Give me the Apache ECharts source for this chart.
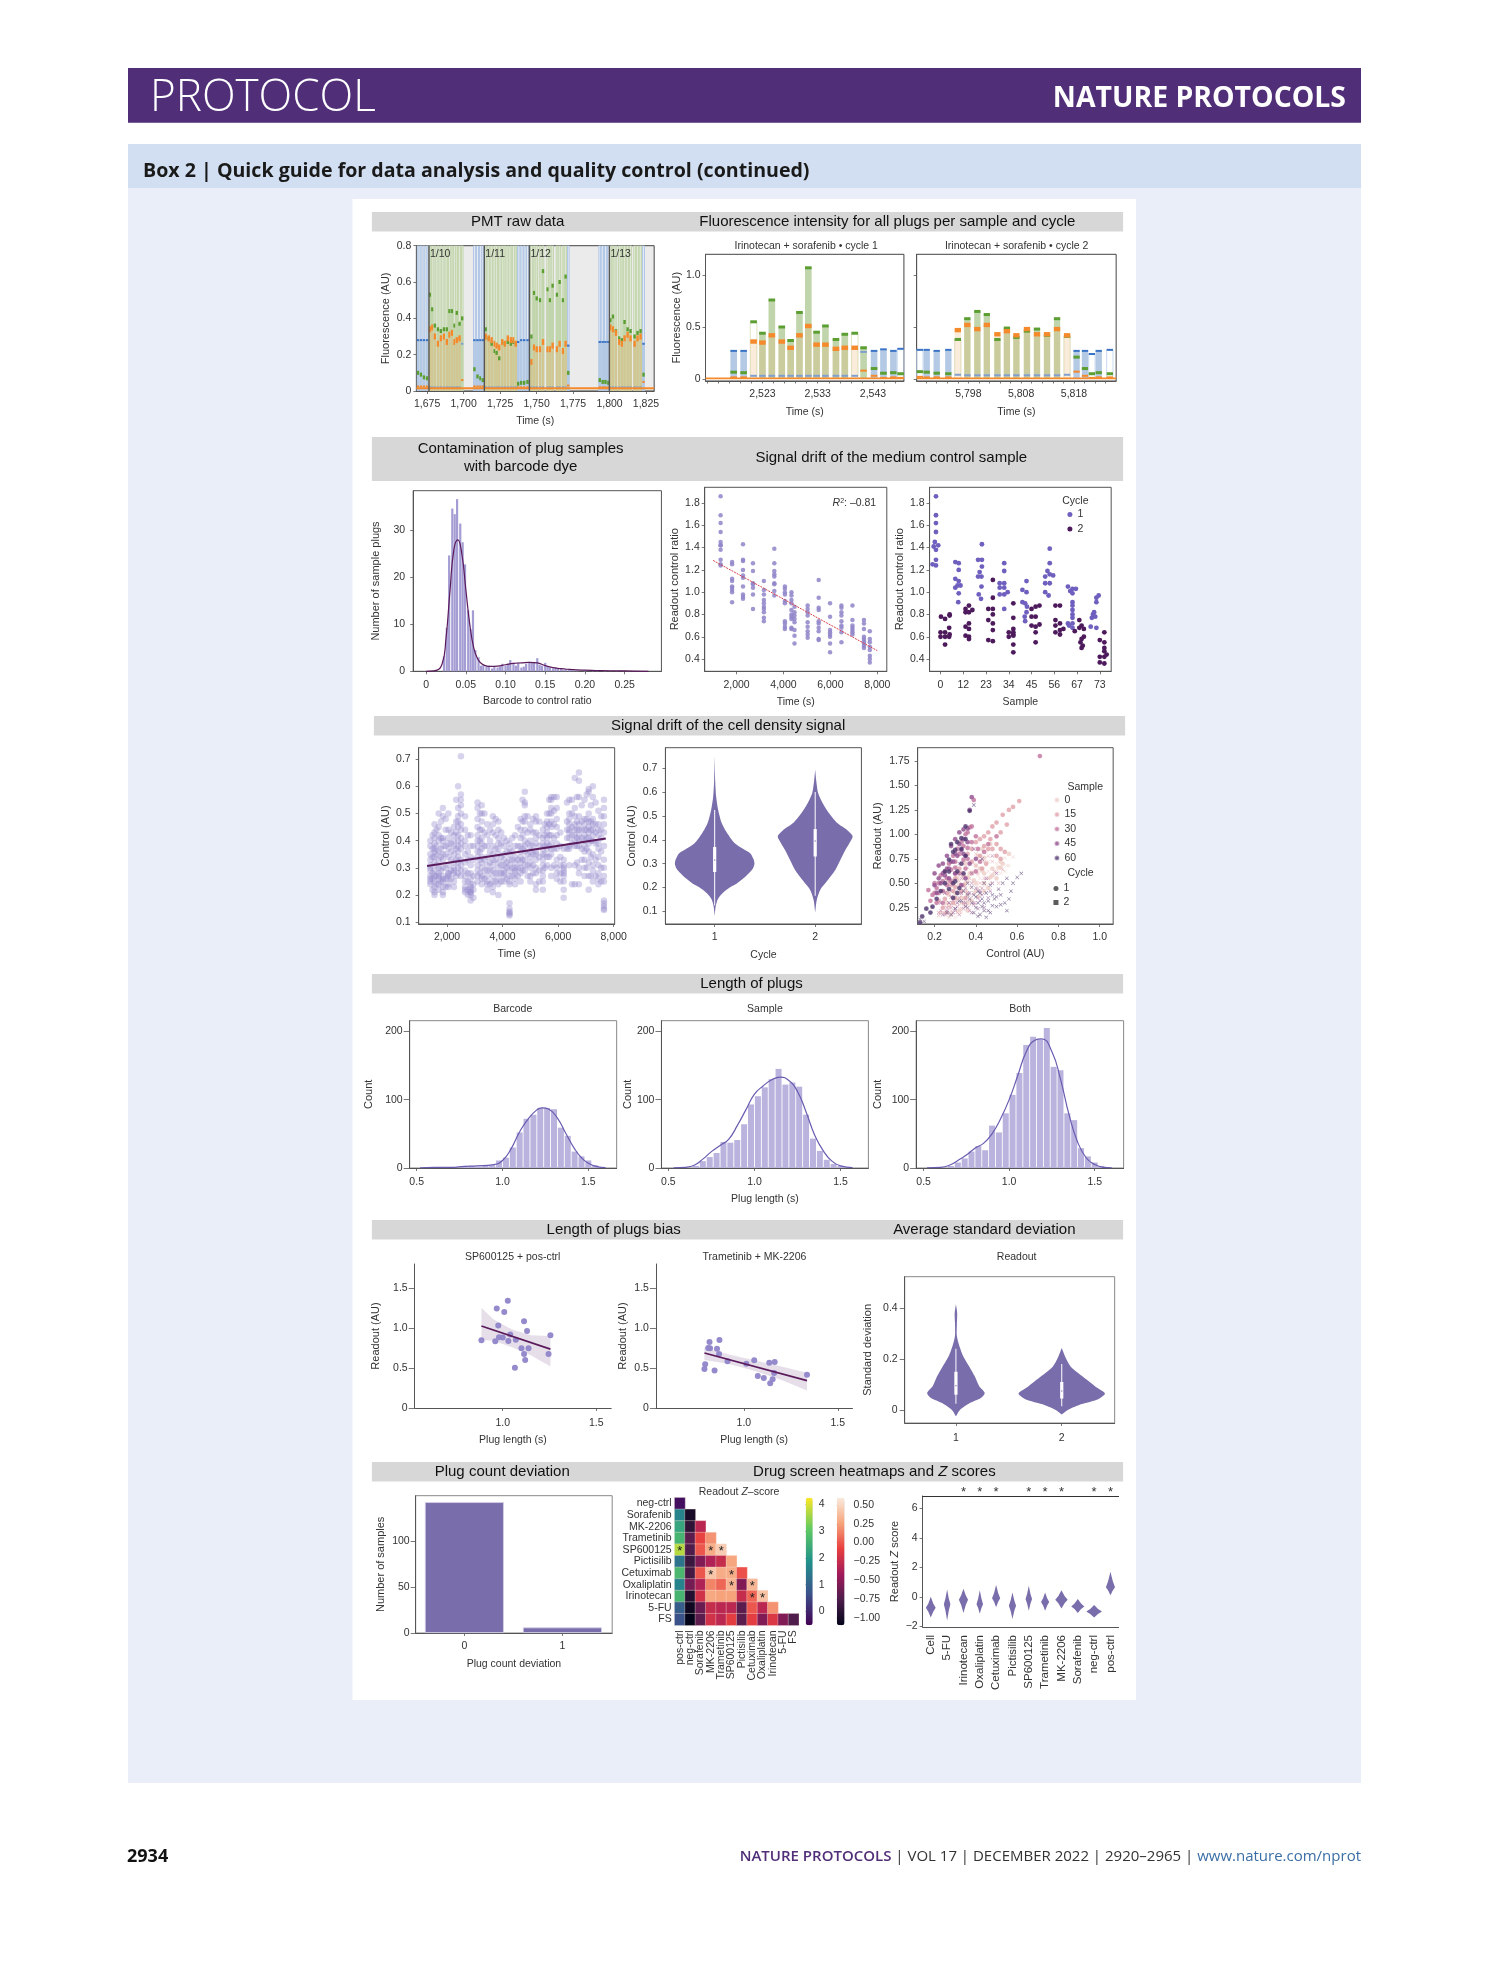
<!DOCTYPE html>
<html><head><meta charset="utf-8"><title>Box 2</title>
<style>html,body{margin:0;padding:0;background:#fff}#c{width:1489px;height:1978px}</style>
<script src="https://cdn.jsdelivr.net/npm/echarts@6/dist/echarts.min.js"></script></head>
<body><div id="c"></div>
<script>
/* ---------- DATA ---------- */
// PMT raw: [time, barcode, sample, cell]
const pmtPlugs=[[1668.8,.28,.10,.025],[1670.8,.28,.09,.025],[1672.8,.28,.075,.025],[1674.9,.28,.07,.025],
[1676.9,.02,.53,.34],[1678.5,.02,.45,.35],[1680.3,.02,.36,.30],[1682.4,.02,.34,.26],[1684.4,.02,.33,.29],[1686.5,.02,.34,.30],[1688.5,.02,.34,.27],[1690.3,.02,.44,.31],[1692,.02,.44,.32],[1693.8,.02,.36,.27],[1695.3,.02,.43,.28],[1697.2,.02,.37,.29],[1699,.26,.40,.06],
[1707.4,.28,.12,.025],[1709.5,.28,.08,.025],[1711.5,.28,.07,.025],[1713.1,.28,.06,.025],
[1715.1,.02,.34,.30],[1717.2,.02,.29,.29],[1719.2,.02,.26,.28],[1721.3,.02,.22,.26],[1722.6,.02,.21,.25],[1724.4,.02,.18,.24],[1726.5,.02,.27,.27],[1728.3,.02,.26,.26],[1730.3,.02,.27,.29],[1732.4,.02,.26,.28],[1734.2,.02,.27,.28],[1735.8,.02,.26,.26],
[1737.4,.27,.04,.02],[1739.4,.28,.045,.02],[1741.5,.28,.045,.02],[1743.8,.28,.05,.02],
[1746.5,.02,.30,.16],[1748.3,.02,.54,.24],[1750.1,.02,.51,.23],[1752.4,.02,.50,.23],[1754.4,.02,.66,.27],[1757.6,.02,.56,.23],[1759.2,.02,.50,.23],[1761,.02,.58,.25],[1764,.02,.53,.23],[1765.8,.02,.60,.26],[1768.1,.02,.50,.22],[1769.9,.02,.63,.26],[1771.7,.25,.10,.03],
[1793.3,.27,.06,.02],[1795.3,.27,.05,.02],[1797.2,.27,.05,.02],[1799.2,.27,.045,.02],
[1800.8,.02,.39,.35],[1802.4,.02,.41,.34],[1804.4,.02,.33,.32],[1806.7,.02,.29,.27],[1808.5,.02,.28,.26],[1810.3,.02,.38,.29],[1812.4,.02,.34,.31],[1814.4,.02,.33,.29],[1817.2,.02,.30,.26],[1819.2,.02,.32,.29],[1821.3,.02,.33,.30],[1823.3,.26,.09,.05]];
const pmtSamples=[[1676.25,'1/10'],[1714.2,'1/11'],[1745.1,'1/12'],[1799.9,'1/13']];
const pmtBaseline=[[1667.6,.015],[1830.6,.015]];
// Fluorescence per cycle: [time, barcode, sample, cell, filled]
const cycle1Plugs=[[2517.8,.27,.065,.015,1],[2519.6,.27,.06,.015,1],[2521.4,.03,.55,.36,0],[2523,.03,.44,.35,1],[2524.7,.03,.76,.42,1],[2526.5,.03,.50,.36,1],[2528.1,.03,.37,.30,1],[2529.7,.03,.64,.42,1],[2531.3,.03,1.07,.51,1],[2532.8,.03,.45,.33,1],[2534.4,.03,.51,.33,1],[2536.3,.03,.38,.29,1],[2537.9,.03,.43,.30,1],[2539.7,.03,.44,.30,0],[2541.3,.26,.30,.08,1],[2543.2,.27,.10,.03,1],[2544.9,.285,.055,.01,1],[2546.7,.27,.06,.015,1],[2548,.29,.05,.01,0]];
const cycle2Plugs=[[5788.8,.28,.07,.02,0],[5790.1,.28,.065,.015,1],[5792,.27,.055,.015,1],[5794.2,.28,.05,.015,1],[5796,.04,.38,.47,0],[5797.8,.035,.58,.52,1],[5799.7,.035,.65,.48,1],[5801.5,.035,.62,.52,1],[5803.5,.035,.38,.43,1],[5805.3,.035,.49,.46,1],[5807.1,.035,.40,.42,1],[5809.1,.035,.46,.48,1],[5811,.035,.48,.43,1],[5812.9,.035,.42,.43,1],[5814.8,.035,.58,.48,1],[5816.7,.04,.41,.42,0],[5818.5,.27,.21,.07,1],[5820.1,.27,.10,.03,1],[5821.4,.24,.05,.01,0],[5822.7,.27,.06,.015,1],[5824.8,.28,.05,.015,0]];
const fluorBaseline1=[[2512.7,.005],[2548.6,.005]];
const fluorBaseline2=[[5788.2,.005],[5826,.005]];
// Contamination histogram
const contamBins=[.0225,.026,.029,.033,.036,.039,.043,.046,.049,.053,.056,.059,.062,.066,.069,.072,.076,.079,.083,.086,.09,.093,.096,.1,.103,.106,.11,.113,.116,.12,.123,.126,.13,.133,.136,.14,.143,.146,.15,.153,.156,.16,.163,.166,.17,.173,.176,.18,.183,.186,.19,.2,.21,.215,.225,.24,.255,.27];
const contamCounts=[3.2,9.3,24.7,34.7,33.5,36.7,31.5,27.5,22.8,13,9,13,4.5,3,1.2,1.3,1,1.2,.6,1,.8,1,1.6,1.2,1.6,2.4,1.8,1.2,1.8,.8,1,1.6,2,1.8,2,2.8,1.4,1.2,1.8,1,.8,.6,.8,.5,.6,.3,.4,.3,.3,.2,.2,.15,.2,.2,.1,.1,.1,.05];
const contamKde=[[0,0],[.01,.1],[.02,1.5],[.025,7],[.03,17],[.035,26],[.04,28],[.045,25],[.05,17.5],[.055,10],[.06,5],[.065,2.6],[.07,1.6],[.075,1.2],[.08,1.05],[.09,1.1],[.1,1.4],[.11,1.7],[.12,1.8],[.13,1.9],[.14,1.8],[.15,1.2],[.16,.8],[.17,.55],[.18,.4],[.19,.3],[.2,.25],[.22,.15],[.24,.1],[.26,.05],[.28,0]];
// Medium control drift: [time, [ratios]]
const medianColumns=[[1320,[1.86,1.69,1.62,1.54,1.45,1.42,1.42,1.38,1.29,1.25,1.24]],[1810,[1.27,1.25,1.12,1.10,1.05,1.04,1.02,1.00,.91]],[2275,[1.43,1.29,1.28,1.20,1.15,1.13,1.05,.98,.96,.94]],[2700,[1.26,1.19,1.08,1.07,1.04,.98,.85]],[3165,[1.10,1.02,.98,.93,.90,.87,.85,.82,.77,.74]],[3610,[1.39,1.26,1.19,1.16,1.14,1.08,1.07,1.01,.97]],[4060,[1.05,1.03,1.00,.98,.92,.90,.74,.72,.69,.67]],[4340,[1.0,.97,.93,.90,.84,.80,.78,.76,.68,.67]],[4470,[.87,.82,.79,.76,.73,.66,.61,.54]],[5030,[.88,.85,.82,.79,.73,.69,.65,.62,.59]],[5500,[1.11,.95,.86,.84,.74,.72,.68,.65,.58,.57]],[5985,[.90,.78,.66,.64,.62,.60,.54,.46]],[6470,[.88,.86,.82,.79,.74,.70,.68,.64,.55]],[6940,[.88,.75,.70,.68,.66,.64,.62]],[7430,[.75,.72,.67,.60,.58,.56,.54,.52,.50]],[7680,[.65,.58,.55,.51,.48,.43,.40,.37]]];
const medianFit=[[1000,1.285],[8000,.475]];
const sampleTicks=[0,12,23,34,45,56,67,73];
const swarmCycle1=[[-.2,1.86],[-.2,1.69],[-.2,1.62],[-.2,1.54],[-.25,1.45],[-.3,1.41],[-.1,1.42],[-.2,1.38],[-.2,1.29],[-.35,1.25],[-.2,1.24],[.65,1.27],[.8,1.26],[.8,1.20],[.65,1.12],[.8,1.10],[.65,1.04],[.75,1.06],[.88,1.06],[.8,.99],[.78,.91],[1.65,1.29],[1.82,1.29],[1.82,1.23],[1.72,1.18],[1.65,1.14],[1.8,1.14],[1.8,1.05],[1.68,.98],[1.78,.94],[1.82,1.43],[2.6,1.08],[2.8,1.08],[2.6,1.04],[2.8,1.04],[2.6,.98],[2.8,.98],[2.95,1.0],[2.8,1.26],[2.8,1.19],[2.8,.85],[3.6,1.02],[3.78,1.0],[3.78,1.10],[3.6,.91],[3.72,.90],[3.8,.87],[3.78,.82],[3.7,.78],[3.72,.74],[4.6,1.14],[4.8,1.16],[4.7,1.19],[4.95,1.15],[4.8,1.26],[4.8,1.39],[4.6,1.08],[4.8,1.08],[4.6,1.0],[4.75,.97],[5.6,1.05],[5.8,1.03],[5.95,1.03],[5.7,1.01],[5.8,.99],[5.8,.91],[5.8,.88],[5.8,.84],[5.8,.80],[5.8,.77],[5.8,.72],[5.8,.68],[5.6,.72],[5.65,.70],[6.65,.77],[6.7,.80],[6.75,.82],[6.8,.78],[6.85,.95],[6.95,.97],[6.85,.91],[6.6,.69],[6.85,.68]];
const swarmCycle2=[[.02,.78],[.2,.76],[.4,.79],[.4,.80],[0,.64],[.2,.64],[0,.60],[.2,.60],[.2,.53],[.38,.68],[.4,.62],[.38,.60],[1.1,.85],[1.1,.82],[1.25,.88],[1.25,.82],[1.4,.84],[1.25,.72],[1.1,.69],[1.25,.67],[1.1,.61],[1.25,.60],[1.25,.58],[2.1,.85],[2.3,.85],[2.3,.80],[2.1,.75],[2.3,.72],[2.3,.66],[2.1,.57],[2.3,.56],[2.3,.95],[2.3,1.11],[3,.64],[3.2,.64],[3,.60],[3.2,.62],[3.2,.67],[3.2,.61],[3.2,.77],[3.2,.90],[3.2,.53],[3.2,.46],[4,.85],[4.18,.87],[4.35,.88],[4,.78],[4.18,.78],[4,.70],[4.18,.69],[4.35,.71],[4.18,.64],[4.18,.55],[5.05,.88],[5.25,.88],[5.05,.75],[5.25,.72],[5.05,.70],[5.25,.66],[5.05,.64],[5.25,.62],[5.4,.67],[5.9,.65],[6.1,.75],[6.2,.70],[6.1,.68],[6.3,.67],[6.2,.58],[6.3,.60],[6.15,.55],[6.25,.52],[6.2,.50],[7,.42],[7,.37],[7.2,.42],[7.2,.36],[7.2,.47],[7.3,.44],[7.2,.50],[7.2,.55],[7,.57],[7.2,.64]];
// Cell density drift: [time, [control]]
const driftColumns=[[1400,[.40,.38,.35,.33,.31,.30,.29,.27,.26,.25,.24]],[1550,[.46,.43,.41,.39,.37,.36,.34,.32,.29,.27,.25,.23,.21,.2]],[1700,[.50,.45,.42,.40,.36,.33,.30,.28,.27,.26,.24,.22]],[1850,[.52,.49,.41,.40,.38,.35,.33,.30,.27,.26,.25,.23,.21,.20]],[2050,[.50,.44,.41,.39,.37,.34,.31,.28,.28,.27,.26,.24,.23]],[2250,[.45,.42,.40,.38,.35,.32,.30,.29,.28,.25,.23]],[2400,[.60,.52,.49,.47,.45,.42,.40,.38,.36,.34,.32,.30,.28]],[2500,[.71,.57,.55,.53,.50,.46,.44,.41,.39,.37,.33,.31,.29,.27]],[2650,[.49,.44,.40,.38,.35,.32,.29,.27,.25,.23,.22,.21]],[2850,[.42,.38,.34,.31,.28,.26,.24,.23,.22,.21,.21,.2,.18]],[3100,[.54,.52,.48,.45,.42,.40,.38,.36,.34,.31,.29,.27,.25]],[3250,[.53,.50,.47,.44,.41,.39,.37,.34,.32,.30,.27,.26,.24]],[3450,[.46,.42,.38,.34,.31,.29,.27,.25,.24,.22]],[3650,[.49,.46,.43,.38,.35,.33,.31,.29,.27,.25,.23,.21]],[3850,[.47,.44,.41,.39,.37,.35,.32,.30,.28,.26,.24,.2]],[4050,[.41,.38,.35,.33,.31,.29,.28,.27,.25]],[4250,[.39,.37,.35,.33,.31,.29,.27,.25,.24,.17,.15,.14,.135,.13,.125]],[4450,[.42,.38,.34,.32,.30,.29,.28,.26,.24]],[4650,[.48,.44,.41,.38,.36,.34,.32,.30,.28,.25]],[4800,[.58,.54,.53,.49,.47,.44,.40,.38,.36,.33,.31,.29]],[5000,[.46,.44,.40,.38,.36,.34,.32,.30,.27,.25]],[5200,[.49,.47,.43,.41,.39,.36,.35,.33,.30,.28,.24,.22]],[5450,[.44,.41,.39,.37,.35,.33,.31,.29,.27,.25,.22]],[5600,[.50,.47,.45,.43,.41,.39,.37,.34,.31]],[5750,[.56,.55,.52,.50,.47,.45,.42,.39,.37,.35,.30,.27]],[5950,[.56,.52,.48,.45,.42,.39,.37,.33,.30,.28,.26]],[6200,[.37,.33,.31,.30,.29,.28,.27,.25,.22,.19]],[6400,[.55,.50,.48,.46,.44,.43,.41,.38,.37,.31]],[6600,[.63,.52,.49,.46,.44,.42,.40,.38,.31,.24]],[6750,[.65,.62,.56,.49,.46,.44,.42,.40,.38,.30,.28,.24]],[6950,[.55,.48,.46,.44,.42,.40,.38,.36,.33,.30,.27]],[7100,[.59,.58,.50,.47,.45,.43,.41,.39,.36,.32,.27,.22]],[7250,[.60,.56,.48,.46,.44,.42,.40,.35,.31,.29,.25]],[7450,[.51,.46,.44,.42,.39,.37,.34,.31,.28,.26,.24]],[7650,[.55,.52,.49,.46,.43,.38,.33,.30,.27,.25,.18,.17,.16,.15,.145]]];
const driftInnerColumns=[[1480,[.42,.37,.34,.28,.26,.22]],[1620,[.44,.38,.35,.31,.27,.24]],[1780,[.47,.41,.37,.34,.29,.25]],[1950,[.48,.44,.38,.35,.30,.26,.23]],[2150,[.43,.39,.36,.33,.29,.26]],[2330,[.55,.47,.43,.37,.33,.27]],[2750,[.42,.36,.33,.28,.25,.22,.2]],[2950,[.38,.33,.27,.24,.22,.19]],[3180,[.50,.44,.40,.36,.33,.28]],[3350,[.50,.43,.38,.33,.29,.26]],[3550,[.44,.40,.36,.32,.29,.24]],[3750,[.48,.42,.37,.33,.28,.25]],[3950,[.43,.39,.34,.31,.28,.25]],[4150,[.40,.36,.32,.30,.26]],[4350,[.41,.36,.33,.30,.27]],[4550,[.45,.38,.33,.30,.27]],[4720,[.55,.47,.42,.37,.33,.29]],[4900,[.49,.43,.39,.35,.31,.27]],[5100,[.48,.43,.38,.35,.31,.28]],[5320,[.47,.42,.38,.34,.29,.25]],[5520,[.46,.42,.38,.35,.30]],[5680,[.55,.50,.46,.42,.38,.34]],[5850,[.56,.51,.46,.41,.37,.31]],[6080,[.43,.38,.34,.31,.28,.25]],[6320,[.54,.47,.44,.41,.37]],[6500,[.55,.50,.45,.42,.39,.24]],[6680,[.56,.47,.44,.41,.38,.32]],[6850,[.53,.47,.44,.41,.37,.33]],[7030,[.57,.48,.44,.41,.37,.30]],[7180,[.53,.47,.44,.40,.34,.27]],[7350,[.54,.46,.43,.39,.33,.27]],[7550,[.49,.44,.41,.36,.30,.25]]];
const driftFit=[[1283,.307],[7717,.408]];
// Violins: [value, half width in category units]
const controlViolin1=[[.08,0],[.12,.01],[.15,.03],[.175,.075],[.2,.15],[.217,.22],[.24,.29],[.26,.34],[.28,.38],[.30,.396],[.32,.385],[.343,.355],[.36,.29],[.385,.2],[.427,.125],[.47,.07],[.525,.035],[.58,.015],[.65,.005],[.75,0]];
const controlViolin2=[[.095,0],[.147,.015],[.19,.05],[.23,.124],[.273,.2],[.315,.25],[.357,.3],[.4,.36],[.416,.372],[.44,.32],[.47,.22],[.51,.14],[.553,.075],[.595,.03],[.65,.01],[.695,0]];
const controlBox=[[1,.125,.265,.315,.37,.525],[2,.165,.33,.395,.445,.6]];
const sdViolin1=[[-.025,0],[0,.038],[.027,.131],[.047,.235],[.067,.272],[.093,.22],[.132,.178],[.17,.127],[.21,.07],[.25,.033],[.29,.009],[.34,.009],[.38,.012],[.415,0]];
const sdViolin2=[[-.018,0],[0,.056],[.02,.164],[.04,.33],[.064,.408],[.086,.338],[.112,.258],[.145,.155],[.17,.085],[.204,.038],[.243,0]];
const sdBox=[[1,.025,.06,.095,.15,.24],[2,.015,.045,.075,.11,.18]];
// Readout vs control: [control, readout, cycle]
const sample0=[[.3,.22,2],[.32,.28,2],[.34,.3,1],[.36,.38,1],[.38,.45,2],[.4,.5,1],[.42,.55,2],[.44,.6,1],[.46,.62,2],[.48,.65,1],[.5,.7,2],[.52,.72,1],[.54,.76,2],[.56,.8,1],[.35,.5,1],[.37,.6,1],[.39,.7,2],[.41,.78,1],[.43,.85,1],[.45,.82,2],[.47,.9,1],[.3,.4,1],[.28,.35,2],[.26,.3,1],[.33,.2,2],[.36,.22,1],[.4,.3,2],[.44,.42,1],[.47,.5,2],[.5,.55,1],[.52,.6,2],[.55,.68,2],[.29,.5,1],[.31,.55,1],[.33,.62,2],[.35,.7,1],[.58,.77,2],[.42,.65,1],[.46,.72,2],[.25,.2,1],[.27,.26,1],[.29,.3,2],[.31,.33,1],[.33,.38,2],[.35,.42,1],[.37,.46,2],[.39,.53,1],[.41,.58,2],[.43,.63,1],[.45,.68,2],[.47,.56,1],[.49,.6,2],[.51,.66,1],[.53,.7,1],[.38,.32,1],[.42,.38,2],[.46,.45,1],[.34,.26,2],[.3,.15,2],[.28,.18,1],[.32,.22,1],[.34,.34,2],[.36,.3,1],[.38,.36,2],[.4,.42,1],[.42,.46,2],[.44,.5,1],[.46,.55,2],[.48,.58,1],[.5,.62,2],[.52,.66,1],[.54,.62,2],[.56,.68,2],[.36,.56,1],[.38,.62,2],[.4,.68,1],[.42,.72,2],[.44,.76,1],[.32,.48,1],[.34,.54,2],[.27,.38,1],[.25,.28,2],[.23,.2,1],[.3,.28,2],[.33,.35,1],[.37,.27,2],[.41,.36,1],[.45,.47,2]];
const sample15=[[.22,.17,2],[.24,.25,1],[.26,.4,1],[.28,.48,1],[.3,.55,1],[.32,.65,1],[.34,.7,2],[.36,.8,1],[.38,.85,1],[.4,.92,1],[.42,.95,1],[.44,.98,1],[.46,1.02,1],[.48,1.08,1],[.5,1.12,1],[.53,1.2,1],[.56,1.25,1],[.58,1.28,1],[.61,1.34,1],[.55,1.1,1],[.52,1.02,1],[.47,.95,1],[.43,.75,2],[.41,.6,2],[.39,.4,2],[.35,.27,2],[.31,.2,2],[.27,.15,2],[.33,.42,1],[.37,.55,2],[.45,.7,1],[.49,.62,2],[.51,.5,2],[.53,.64,2],[.29,.3,1],[.25,.34,1],[.27,.43,2],[.3,.46,1],[.32,.52,2],[.34,.58,1],[.36,.66,2],[.38,.72,1],[.4,.8,2],[.44,.88,1],[.46,.78,2],[.48,.85,1],[.5,.9,1],[.52,.85,1],[.42,.5,2],[.44,.55,2],[.28,.22,2],[.33,.3,2],[.26,.2,1],[.28,.28,2],[.3,.35,1],[.32,.4,2],[.34,.48,1],[.36,.52,2],[.38,.6,1],[.4,.68,2],[.42,.78,1],[.44,.72,2],[.46,.85,1],[.48,.72,2],[.5,.78,1],[.52,.75,1],[.54,.82,1],[.41,.45,2],[.37,.33,2],[.33,.24,2],[.29,.42,1],[.27,.52,1],[.24,.42,1],[.22,.32,1],[.46,.55,2],[.43,.65,1],[.35,.35,1]];
const sample30=[[.2,.5,1],[.21,.45,1],[.23,.58,1],[.25,.62,1],[.27,.7,1],[.29,.78,1],[.31,.85,1],[.33,.92,1],[.35,1.0,1],[.37,1.07,1],[.39,1.35,1],[.3,.6,1],[.28,.42,2],[.26,.25,2],[.24,.3,1],[.22,.2,2],[.32,.35,2],[.34,.24,2],[.36,.4,2],[.38,.5,2],[.4,.62,1],[.42,.72,1],[.44,.82,1],[.46,.9,1],[.48,.78,2],[.5,.98,1],[.18,.32,1],[.17,.43,1],[.71,1.8,1],[.19,.25,2],[.35,.65,1],[.41,.85,1],[.33,.55,2],[.29,.33,2],[.43,.45,2],[.22,.4,1],[.24,.52,1],[.26,.55,1],[.28,.64,1],[.3,.72,1],[.32,.8,1],[.34,.88,1],[.36,.75,1],[.38,.92,1],[.4,.98,1],[.23,.22,2],[.27,.3,2],[.31,.26,2],[.35,.34,2],[.39,.28,2],[.2,.4,1],[.22,.5,1],[.24,.42,1],[.26,.48,1],[.28,.52,1],[.3,.66,1],[.32,.6,1],[.34,.74,1],[.36,.86,1],[.28,.25,2],[.3,.22,2],[.32,.18,2],[.34,.3,2],[.37,.22,2],[.41,.35,2],[.25,.18,2],[.21,.3,1],[.19,.38,1],[.38,1.08,1],[.36,1.02,1]];
const sample45=[[.2,.6,1],[.22,.68,1],[.24,.7,1],[.26,.78,1],[.28,.88,1],[.3,.95,1],[.32,1.02,1],[.34,1.05,1],[.38,1.38,1],[.37,1.25,1],[.27,.55,1],[.25,.4,2],[.23,.3,2],[.3,.6,1],[.32,.7,2],[.34,.8,1],[.36,.92,1],[.38,.6,2],[.4,.45,2],[.42,.32,2],[.44,.25,2],[.46,.35,2],[.48,.5,2],[.35,.45,2],[.29,.2,2],[.21,.4,1],[.31,.3,2],[.33,.48,1],[.4,.75,1],[.5,.6,2],[.23,.5,1],[.25,.58,1],[.27,.65,1],[.29,.72,1],[.31,.78,1],[.33,.84,1],[.35,.78,1],[.37,.7,1],[.39,.85,2],[.28,.36,2],[.26,.22,2],[.36,.25,2],[.38,.2,2],[.42,.42,2],[.45,.55,2],[.2,.48,1],[.22,.55,1],[.24,.6,1],[.26,.65,1],[.28,.72,1],[.3,.8,1],[.32,.9,1],[.34,.95,1],[.36,1.06,1],[.33,.4,2],[.35,.3,2],[.37,.4,2],[.39,.3,2],[.41,.24,2],[.43,.38,2],[.47,.42,2],[.3,.24,2],[.27,.3,2],[.24,.18,2],[.35,.55,1]];
const sample60=[[.13,.1,1],[.14,.16,1],[.13,.13,2],[.16,.24,1],[.15,.11,2],[.28,.9,1],[.3,.84,1],[.33,.96,1],[.35,1.08,1],[.37,1.24,1],[.39,1.3,2],[.27,.62,1],[.25,.5,1],[.3,.52,1],[.32,.45,1],[.36,.38,2],[.38,.3,2],[.4,.25,2],[.42,.18,2],[.44,.22,2],[.46,.32,2],[.48,.27,2],[.5,.36,2],[.52,.28,2],[.55,.22,2],[.57,.42,2],[.41,.42,2],[.44,.5,2],[.34,.6,1],[.29,.35,1],[.26,.2,2],[.43,.75,2],[.6,.56,2],[.62,.6,2],[.55,.55,2],[.45,.15,2],[.31,.62,1],[.33,.7,1],[.35,.78,1],[.27,.44,1],[.29,.5,1],[.31,.4,1],[.33,.32,2],[.35,.26,2],[.37,.34,2],[.39,.38,2],[.41,.3,2],[.43,.26,2],[.47,.2,2],[.49,.34,2],[.51,.44,2],[.53,.5,2],[.39,.2,2],[.41,.16,2],[.43,.34,2],[.45,.4,2],[.25,.62,1],[.27,.74,1],[.29,.82,1],[.31,.92,1],[.33,.85,1],[.35,.95,1],[.23,.42,1],[.21,.34,1],[.19,.26,1],[.18,.2,1],[.4,.36,2],[.42,.4,2],[.44,.3,2],[.46,.22,2],[.48,.38,2],[.5,.26,2],[.52,.38,2],[.54,.3,2],[.56,.34,2],[.58,.5,2],[.47,.48,2],[.36,.5,2],[.38,.46,2],[.34,.42,2],[.32,.32,2],[.3,.24,2],[.28,.18,2]];
// Length of plugs
const lenBins=[.62,.66,.70,.74,.78,.82,.86,.90,.94,.98,1.02,1.06,1.10,1.14,1.18,1.22,1.26,1.30,1.34,1.38,1.42,1.46,1.50,1.54,1.58];
const barcodeCounts=[0,0,0,0,3,3,2,3,4,11,15,30,52,72,78,88,88,86,59,47,24,17,11,4,1];
const sampleCounts=[0,3,10,16,22,38,37,41,64,93,105,118,130,145,122,125,119,78,43,25,12,6,3,0,0];
const bothCounts=[0,3,8,14,24,32,26,62,52,80,107,139,180,192,188,205,148,143,80,70,29,17,8,3,0];
const barcodeKde=[[.52,.3],[.6,.8],[.7,.8],[.78,2.5],[.85,3],[.95,5],[1.0,11],[1.05,28],[1.1,53],[1.15,72],[1.2,85],[1.23,88],[1.27,86],[1.32,73],[1.37,50],[1.42,28],[1.46,15],[1.5,7],[1.55,2],[1.6,.5]];
const sampleKde=[[.53,.3],[.6,1],[.65,4],[.7,13],[.75,24],[.8,33],[.85,42],[.9,62],[.95,85],[1.0,108],[1.05,120],[1.1,129],[1.15,133],[1.2,128],[1.25,112],[1.3,82],[1.35,48],[1.4,25],[1.45,10],[1.5,3],[1.57,.5]];
const bothKde=[[.52,.3],[.6,1],[.65,4],[.7,11],[.75,19],[.8,29],[.85,36],[.9,50],[.95,72],[1.0,100],[1.05,135],[1.1,170],[1.15,187],[1.19,189],[1.25,170],[1.3,130],[1.35,78],[1.4,38],[1.45,15],[1.5,5],[1.55,1],[1.6,.3]];
// Length bias
const spPoints=[[.886,.846],[.96,.833],[.968,1.245],[1.008,1.2],[1.027,1.34],[.976,1.03],[.98,.883],[1.0,.88],[1.03,.837],[1.04,.92],[1.07,.854],[1.065,.504],[1.1,.746],[1.114,1.083],[1.114,.675],[1.12,.6],[1.13,.962],[1.138,.746],[1.245,.675],[1.255,.908]];
const spFit=[[.886,1.025],[1.255,.737]];
const spBand=[[.886,.85,1.25],[.95,.84,1.11],[1.05,.76,.98],[1.15,.66,.91],[1.255,.52,.90]];
const trPoints=[[.79,.487],[.794,.546],[.81,.75],[.817,.825],[.82,.746],[.844,.47],[.857,.742],[.87,.85],[.868,.675],[.913,.583],[1.013,.554],[1.055,.596],[1.074,.4],[1.106,.375],[1.135,.567],[1.164,.575],[1.14,.308],[1.153,.358],[1.161,.4375],[1.336,.417]];
const trFit=[[.79,.6875],[1.336,.342]];
const trBand=[[.79,.60,.76],[.92,.55,.67],[1.05,.47,.60],[1.2,.35,.52],[1.336,.22,.44]];
// Plug count deviation
const deviationValues=[[0,142],[1,6]];
// Heatmap
const drugRows=['neg-ctrl','Sorafenib','MK-2206','Trametinib','SP600125','Pictisilib','Cetuximab','Oxaliplatin','Irinotecan','5-FU','FS'];
const drugCols=['pos-ctrl','neg-ctrl','Sorafenib','MK-2206','Trametinib','SP600125','Pictisilib','Cetuximab','Oxaliplatin','Irinotecan','5-FU','FS'];
const posCtrlScores=[-.3,1.6,2.3,2.6,3.7,1.3,2.7,1.6,2.6,.9,.7];
const comboScores=[[],[-1.0],[-.9,-.3],[-.7,-.07,.2],[-.75,0,.3,.45],[-.85,-.55,-.35,-.25,.27],[-.8,0,.42,.3,.3,-.02],[-.6,-.35,.15,.05,.33,-.55,.35],[-.95,-.2,.28,.25,.25,-.25,.05,.4],[-1.05,-.65,-.25,-.3,-.3,-.7,.0,-.3,.2],[-1.1,-.7,-.2,-.3,-.1,-.7,-.1,-.55,-.15,-.55,-.75]];
const starCells=['0,4','3,4','4,4','3,6','5,6','5,7','7,7','7,8','8,8'];
// Z-score violins
const zDrugs=['Cell','5-FU','Irinotecan','Oxaliplatin','Cetuximab','Pictisilib','SP600125','Trametinib','MK-2206','Sorafenib','neg-ctrl','pos-ctrl'];
const zTops=[0,.5,.55,.45,.8,.3,.75,.3,.45,-.15,-.55,1.7];
const zBottoms=[-1.4,-1.6,-1.1,-1.15,-.7,-1.5,-.95,-.95,-.8,-1.1,-1.4,.1];
const zWaists=[-.75,-.5,-.2,-.5,-.1,-.6,-.15,-.35,-.2,-.65,-1.0,.65];
const zHalves=[.3,.2,.28,.2,.25,.22,.2,.25,.38,.4,.48,.28];
const zStars=['Irinotecan','Oxaliplatin','Cetuximab','SP600125','Trametinib','MK-2206','neg-ctrl','pos-ctrl'];

/* ---------- STYLE ---------- */
const FONT='"Liberation Sans"', TXT='#333', LINE='#555';
const VIO='#7a6dab', LIGHT='#b9b3dd', DOTS='#8f85c9', DARK='#5b1a5b';
const BLUE='#3b74c4', GREEN='#5b9e32', ORANGE='#f58a2c';
const fx=x=>350+(x-350)*.995;
const grid=[],xAxis=[],yAxis=[],series=[];
const comma=v=>Math.round(v).toLocaleString('en-US');
const dec1=v=>v===0?'0':v.toFixed(1);
const dec2=v=>v.toFixed(2);
function axis(kind,o,gi){
  const lc=o.color||LINE,nfs=o.nfs||(kind==='y'?11:10.5);
  return Object.assign({type:'value',gridIndex:gi,min:o.min,max:o.max,
    axisLine:{show:o.line!==false,onZero:false,lineStyle:{color:lc,width:1}},
    axisTick:{show:o.tick!==false,customValues:o.minor||o.ticks,length:o.tl||3,lineStyle:{color:lc,width:.8}},
    axisLabel:{show:o.labels!==false,customValues:o.ticks,formatter:o.fmt||String,fontFamily:FONT,fontSize:o.fs||10.5,color:TXT,margin:o.margin||5,showMinLabel:true,showMaxLabel:true},
    splitLine:{show:false},name:o.name,nameLocation:'middle',nameGap:o.gap||22,
    nameTextStyle:{fontFamily:FONT,fontSize:nfs,color:TXT,rich:{i:{fontStyle:'italic',fontFamily:FONT,fontSize:nfs,color:TXT}}}},o.extra||{});
}
function panel(b,x,y){
  const gi=grid.length,l=fx(b.l),r=fx(b.r);
  grid.push({left:l,top:b.t,width:r-l,height:b.b-b.t,show:b.box!==false,borderColor:b.color||LINE,borderWidth:1,backgroundColor:b.bg||'transparent',containLabel:false});
  xAxis.push(axis('x',x,gi));yAxis.push(axis('y',y,gi));
  return gi;
}
const on=(gi,o)=>Object.assign({xAxisIndex:gi,yAxisIndex:gi,silent:true,animation:false},o);
function rect(x0,y0,x1,y1,fill){return {type:'rect',shape:{x:x0,y:y0,width:x1-x0,height:y1-y0},style:{fill}};}

/* plugs: a row per plug */
function plugSeries(gi,rows,width,top){
  return on(gi,{type:'custom',data:rows,encode:{x:0,y:2},renderItem(p,api){
    const t=api.value(0),b=api.value(1),g=api.value(2),o=api.value(3),f=rows[p.dataIndex][4];
    const hw=api.size([width,0])[0]/2,cx=api.coord([t,0])[0],y0=api.coord([t,0])[1];
    const Y=v=>api.coord([t,v])[1],kids=[],barcode=b>g;
    if(top){
      kids.push(rect(cx-hw,Y(top),cx+hw,y0,barcode?'#e4ebf5':'#e2e9d8'));
      kids.push(rect(cx-hw,Y(top),cx-hw+.7,y0,barcode?'#9db9e0':'#b9cfa0'));
      kids.push(rect(cx+hw-.7,Y(top),cx+hw,y0,barcode?'#9db9e0':'#b9cfa0'));
    }
    const h=Math.max(b,g),fillC=barcode?'#b3c9e4':'#c1d5ac';
    if(f!==0) kids.push(rect(cx-hw,Y(h),cx+hw,y0,fillC));
    else if(!top) kids.push({type:'polyline',shape:{points:[[cx-hw,y0],[cx-hw,Y(h)],[cx+hw,Y(h)],[cx+hw,y0]]},style:{fill:null,stroke:barcode?'#bcd0ec':'#d8dcb8',lineWidth:.8}});
    if(o>.1) kids.push(rect(cx-hw,Y(o),cx+hw,y0,top?'rgba(222,190,130,.6)':'rgba(232,180,110,.25)'));
    const gt=top?2:1.5,ot=top?3:2.2;
    kids.push(rect(cx-hw,Y(b)-1,cx+hw,Y(b)+1,barcode?BLUE:'#7fa0d0'));
    kids.push(rect(cx-hw,Y(g)-gt,cx+hw,Y(g)+gt,GREEN));
    kids.push(rect(cx-hw,Y(o)-(o>.1?ot:1),cx+hw,Y(o)+(o>.1?ot:1),ORANGE));
    return {type:'group',children:kids};
  }});
}
function baselineSeries(gi,d,w){return on(gi,{type:'line',data:d,showSymbol:false,lineStyle:{color:ORANGE,width:w},z:4});}

/* violins */
function violinSeries(gi,profiles,boxes){
  return on(gi,{type:'custom',data:boxes,encode:{x:0,y:3},renderItem(p,api){
    const row=boxes[p.dataIndex],pos=row[0],prof=profiles[p.dataIndex],pts=[];
    prof.forEach(q=>pts.push(api.coord([pos-q[1],q[0]])));
    prof.slice().reverse().forEach(q=>pts.push(api.coord([pos+q[1],q[0]])));
    const c=v=>api.coord([pos,v]),x=c(row[1])[0];
    return {type:'group',children:[
      {type:'polygon',shape:{points:pts,smooth:.25},style:{fill:VIO}},
      rect(x-.5,c(row[5])[1],x+.5,c(row[1])[1],'#fff'),
      rect(x-1.6,c(row[4])[1],x+1.6,c(row[2])[1],'#fff'),
      rect(x-.7,c(row[3])[1]-.5,x+.7,c(row[3])[1]+.5,VIO)]};
  }});
}
function bandSeries(gi,band,color){
  return on(gi,{type:'custom',data:band,encode:{x:0,y:2},renderItem(p,api){
    if(p.dataIndex!==0) return null;
    const pts=band.map(q=>api.coord([q[0],q[2]])).concat(band.slice().reverse().map(q=>api.coord([q[0],q[1]])));
    return {type:'polygon',shape:{points:pts},style:{fill:color}};
  }});
}
const lineOf=(gi,d,color,w,extra)=>on(gi,Object.assign({type:'line',data:d,showSymbol:false,lineStyle:{color,width:w},z:5},extra||{}));
const dotsOf=(gi,d,color,size,op,name)=>on(gi,{type:'scatter',name,data:d,symbol:'circle',symbolSize:size,itemStyle:{color,opacity:op}});
const flat=cols=>cols.flatMap(c=>c[1].map(v=>[c[0],v]));

/* ---- PMT raw ---- */
const Y_FL={name:'Fluorescence (AU)',gap:25,ticks:[0,.2,.4,.6,.8],fmt:dec1,min:0,max:.8};
let g=panel({l:416.7,r:655.7,t:245.7,b:391,bg:'#ebebeb',color:'#444'},{min:1667.6,max:1830.6,ticks:[1675,1700,1725,1750,1775,1800,1825],fmt:comma,name:'Time (s)',gap:25,margin:8},Y_FL);
series.push(plugSeries(g,pmtPlugs,1.65,.8));
series.push(baselineSeries(g,pmtBaseline,2));
series.push(on(g,{type:'custom',data:pmtSamples,encode:{x:0},z:6,renderItem(p,api){
  const c=api.coord([api.value(0),.8]),b=api.coord([api.value(0),0]);
  return {type:'group',children:[rect(c[0]-.7,c[1],c[0]+.7,b[1],'#555'),
   {type:'text',style:{text:pmtSamples[p.dataIndex][1],x:c[0]+1,y:c[1]+3,font:'10.5px '+FONT,fill:TXT}}]};
}}));
/* ---- Fluorescence per cycle ---- */
const secondTicks=(a,b)=>{const r=[];for(let t=a;t<=b;t+=2)r.push(t);return r;};
g=panel({l:707.3,r:906.7,t:254.3,b:381,color:'#444'},{min:2512.7,max:2548.6,ticks:[2523,2533,2543],minor:secondTicks(2513,2547),fmt:comma,name:'Time (s)',gap:26,margin:8,tl:2.5},{min:-.02,max:1.2,ticks:[0,.5,1],fmt:v=>v===0?'0':v.toFixed(1),name:'Fluorescence (AU)',gap:23.5});
series.push(plugSeries(g,cycle1Plugs,1.2,0));series.push(baselineSeries(g,fluorBaseline1,1.6));
g=panel({l:919.5,r:1120,t:254.3,b:381,color:'#444'},{min:5788.2,max:5826,ticks:[5798,5808,5818],minor:secondTicks(5790,5824),fmt:comma,name:'Time (s)',gap:26,margin:8,tl:2.5},{min:-.02,max:1.2,ticks:[0,.5,1],labels:false});
series.push(plugSeries(g,cycle2Plugs,1.2,0));series.push(baselineSeries(g,fluorBaseline2,1.6));

/* ---- Contamination ---- */
g=panel({l:413.5,r:663,t:490.7,b:671.3},{min:-.0163,max:.2964,ticks:[0,.05,.1,.15,.2,.25],fmt:v=>v===0?'0':v.toFixed(2),name:'Barcode to control ratio',gap:24,margin:8},{min:0,max:38.5,ticks:[0,10,20,30],name:'Number of sample plugs',gap:32,margin:8});
series.push(on(g,{type:'bar',data:contamBins.map((x,i)=>[x,contamCounts[i]]),barWidth:2.2,itemStyle:{color:'#a49dd3'}}));
series.push(lineOf(g,contamKde,DARK,1.2,{smooth:true}));
/* ---- Medium control drift ---- */
const Y_RATIO={min:.29,max:1.941,ticks:[.4,.6,.8,1,1.2,1.4,1.6,1.8],fmt:v=>v.toFixed(1),name:'Readout control ratio',gap:24};
g=panel({l:706.5,r:889.5,t:487.3,b:671.3},{min:643,max:8404,ticks:[2000,4000,6000,8000],fmt:comma,name:'Time (s)',gap:25,margin:8},Y_RATIO);
series.push(dotsOf(g,flat(medianColumns),DOTS,4.5,.85));
series.push(lineOf(g,medianFit,'#d9434b',1,{lineStyle:{color:'#d9434b',width:1,type:[2,1]}}));
series.push(on(g,{type:'custom',data:[[8404,1.941]],encode:{x:0,y:1},renderItem(p,api){
  const c=api.coord([7950,1.8]);
  return {type:'text',style:{x:c[0],y:c[1],text:'{i|R}{s|2}{t|: –0.81}',textAlign:'right',textVerticalAlign:'middle',rich:{i:{fontStyle:'italic',fontFamily:FONT,fontSize:10.5,fill:TXT},s:{fontFamily:FONT,fontSize:7,verticalAlign:'top',fill:TXT},t:{fontFamily:FONT,fontSize:10.5,fill:TXT}}}};
}}));
/* ---- Swarm ---- */
g=panel({l:932.5,r:1115,t:487.3,b:671.3},{min:-.48,max:7.5,ticks:[0,1,2,3,4,5,6,7],fmt:v=>String(sampleTicks[v]),name:'Sample',gap:25,margin:8},Object.assign({},Y_RATIO));
series.push(dotsOf(g,swarmCycle1,'#6f5fbe',4.8,1,'Cycle 1'));
series.push(dotsOf(g,swarmCycle2,'#4d1a5c',4.8,1,'Cycle 2'));

/* ---- Cell density drift ---- */
g=panel({l:419,r:616,t:747.7,b:924},{min:979,max:8036,ticks:[2000,4000,6000,8000],fmt:comma,name:'Time (s)',gap:25,margin:8},{min:.0938,max:.7415,ticks:[.1,.2,.3,.4,.5,.6,.7],fmt:v=>v.toFixed(1),name:'Control (AU)',gap:27,margin:8});
series.push(dotsOf(g,flat(driftColumns.concat(driftInnerColumns)),'#8f85c9',6.5,.36));
series.push(lineOf(g,driftFit,DARK,2.2));
g=panel({l:667,r:864,t:747.7,b:924},{min:.51,max:2.46,ticks:[1,2],name:'Cycle',gap:26,margin:8},{min:.047,max:.786,ticks:[.1,.2,.3,.4,.5,.6,.7],fmt:v=>v.toFixed(1),name:'Control (AU)',gap:28,margin:8});
series.push(violinSeries(g,[controlViolin1,controlViolin2],controlBox));
const samplePalette=['#eecdc5','#dea0a8','#c0709a','#8f4a8c','#4b2f6a'];
const cross='path://M1 0L5 4 9 0 10 1 6 5 10 9 9 10 5 6 1 10 0 9 4 5 0 1Z';
g=panel({l:920.5,r:1117,t:747.7,b:924},{min:.118,max:1.065,ticks:[.2,.4,.6,.8,1],fmt:v=>v.toFixed(1),name:'Control (AU)',gap:25,margin:8},{min:.083,max:1.886,ticks:[.25,.5,.75,1,1.25,1.5,1.75],fmt:dec2,name:'Readout (AU)',gap:34,margin:8});
[[sample0,'0'],[sample15,'15'],[sample30,'30'],[sample45,'45'],[sample60,'60']].forEach((s,i)=>{
  series.push(on(g,{type:'scatter',name:s[1],data:s[0],symbol:v=>v[2]===2?cross:'circle',symbolSize:v=>v[2]===2?3.8:4.8,itemStyle:{color:samplePalette[i],borderColor:'rgba(255,255,255,.5)',borderWidth:.3}}));
});
series.push(on(g,{type:'scatter',name:'Shape 1',data:[],symbol:'circle',itemStyle:{color:'#333'}}));
series.push(on(g,{type:'scatter',name:'Shape 2',data:[],symbol:'rect',itemStyle:{color:'#333'}}));

/* ---- Length of plugs ---- */
const gr='#888';
[[410,618,.4594,1.665,barcodeCounts,barcodeKde,null,35],[663,871,.4595,1.662,sampleCounts,sampleKde,'Plug length (s)',27.5],[919,1127.5,.4564,1.669,bothCounts,bothKde,null,33]].forEach(c=>{
  const gi=panel({l:c[0],r:c[1],t:1020.7,b:1168,color:gr},{min:c[2],max:c[3],ticks:[.5,1,1.5],fmt:v=>v.toFixed(1),name:c[6],gap:26,margin:9,color:LINE},{min:0,max:215.5,ticks:[0,100,200],name:'Count',gap:c[7],tl:6,margin:7});
  series.push(on(gi,{type:'bar',data:lenBins.map((x,i)=>[x,c[4][i]]),barWidth:6,itemStyle:{color:LIGHT}}));
  series.push(lineOf(gi,c[5],'#6a5bb0',1.2,{smooth:true}));
});
/* ---- Length bias ---- */
[[415,612.5,.529,1.58,spPoints,spFit,spBand,33],[657.5,855,.532,1.578,trPoints,trFit,trBand,27]].forEach(c=>{
  const gi=panel({l:c[0],r:c[1],t:1264,b:1408,box:false},{min:c[2],max:c[3],ticks:[1,1.5],fmt:v=>v.toFixed(1),name:'Plug length (s)',gap:27,margin:10},{min:0,max:1.8,ticks:[0,.5,1,1.5],fmt:v=>v===0?'0':v.toFixed(1),name:'Readout (AU)',gap:c[7],tl:6,margin:7});
  series.push(bandSeries(gi,c[6],'rgba(130,95,150,.2)'));
  series.push(dotsOf(gi,c[4],DOTS,6,.95));
  series.push(lineOf(gi,c[5],DARK,1.8));
});
g=panel({l:907.5,r:1118.5,t:1276.7,b:1423,color:gr},{min:.516,max:2.5,ticks:[1,2],margin:10,color:LINE},{min:-.051,max:.523,ticks:[0,.2,.4],fmt:dec1,name:'Standard deviation',gap:31,tl:5,margin:7});
series.push(violinSeries(g,[sdViolin1,sdViolin2],sdBox));

/* ---- Plug count ---- */
g=panel({l:416,r:613.5,t:1495.7,b:1633,color:gr},{min:-.497,max:1.508,ticks:[0,1],name:'Plug count deviation',gap:26,margin:8,color:LINE},{min:0,max:149,ticks:[0,50,100],name:'Number of samples',gap:29,tl:5,margin:6});
series.push(on(g,{type:'bar',data:deviationValues,barWidth:79,itemStyle:{color:VIO,borderColor:'#d5d1e8',borderWidth:.8}}));

/* ---- Heatmap ---- */
const hg=grid.length;
grid.push({left:fx(676.3),top:1497.7,width:124.1,height:127.6,containLabel:false});
xAxis.push({type:'category',gridIndex:hg,data:drugCols,axisLine:{show:false},axisTick:{show:false},axisLabel:{rotate:90,interval:0,fontFamily:FONT,fontSize:10.5,color:TXT,margin:5},splitLine:{show:false},splitArea:{show:false}});
yAxis.push({type:'category',gridIndex:hg,data:drugRows,inverse:true,axisLine:{show:false},axisTick:{show:false},axisLabel:{interval:0,fontFamily:FONT,fontSize:10.5,color:TXT,margin:3},splitLine:{show:false},splitArea:{show:false}});
const starLabel={show:true,fontFamily:FONT,fontSize:13,color:'#222',offset:[0,2],formatter:p=>starCells.includes(p.data[0]+','+p.data[1])?'*':''};
const cellStyle={borderColor:'rgba(255,235,225,.55)',borderWidth:.6};
const isPos=series.length;
series.push(on(hg,{type:'heatmap',data:posCtrlScores.map((v,r)=>[0,r,v]),label:starLabel,itemStyle:cellStyle}));
const isCombo=series.length;
series.push(on(hg,{type:'heatmap',data:comboScores.flatMap((row,r)=>row.map((v,c)=>[c+1,r,v])),label:starLabel,itemStyle:cellStyle}));
/* colourbar tick axes */
function barAxis(l,w,min,max,ticks,fmt,margin){
  const gi=grid.length;
  grid.push({left:l,top:1497.7,width:w,height:127.6,containLabel:false});
  xAxis.push({type:'value',gridIndex:gi,min:0,max:1,show:false});
  yAxis.push({type:'value',gridIndex:gi,position:'right',min,max,axisLine:{show:false},splitLine:{show:false},
    axisTick:{show:true,customValues:ticks,length:2.5,lineStyle:{color:LINE}},
    axisLabel:{customValues:ticks,formatter:fmt,fontFamily:FONT,fontSize:10.5,color:TXT,margin}});
}
const minusFmt=v=>(v<0?'−':'')+Math.abs(v).toFixed(2);
barAxis(fx(808),7,-.52,4.25,[0,1,2,3,4],v=>String(v),6);
barAxis(fx(839.3),7.7,-1.1,.597,[-1,-.75,-.5,-.25,0,.25,.5],minusFmt,9);
const viridis=['#440154','#3b528b','#21918c','#5ec962','#fde725'];
const rocket=['#03051a','#4c1d4b','#a11a5b','#e83f3f','#f6a47b','#faebdd'];
const visualMap=[
 {seriesIndex:isPos,dimension:2,min:-.52,max:4.25,inRange:{color:viridis},left:fx(808),top:1497.7,itemWidth:7,itemHeight:127.6,calculable:false,hoverLink:false,padding:0,text:null,show:true},
 {seriesIndex:isCombo,dimension:2,min:-1.1,max:.597,inRange:{color:rocket},left:fx(839.3),top:1497.7,itemWidth:7.7,itemHeight:127.6,calculable:false,hoverLink:false,padding:0,text:null,show:true}];

/* ---- Z-score violins ---- */
const zg=grid.length;
grid.push({left:fx(925.5),top:1496,width:196,height:131,containLabel:false});
xAxis.push({type:'category',gridIndex:zg,data:zDrugs,position:'bottom',axisLine:{show:true,onZero:false,lineStyle:{color:LINE}},axisTick:{alignWithLabel:true,length:3,lineStyle:{color:LINE}},axisLabel:{rotate:90,interval:0,fontFamily:FONT,fontSize:11.5,color:TXT,margin:8},splitLine:{show:false}});
yAxis.push(axis('y',{min:-2.05,max:6.85,ticks:[-2,0,2,4,6],fmt:v=>(v<0?'−':'')+Math.abs(v),name:'Readout {i|Z} score',gap:22},zg));
const zxIndex=xAxis.length-1;
xAxis.push({type:'category',gridIndex:zg,data:zDrugs,position:'top',axisLine:{show:true,onZero:false,lineStyle:{color:'#333'}},axisTick:{show:false},axisLabel:{interval:0,formatter:v=>zStars.includes(v)?'*':'',fontFamily:FONT,fontSize:13,color:TXT,margin:-3},splitLine:{show:false}});
series.push({type:'custom',xAxisIndex:zxIndex,yAxisIndex:yAxis.length-1,silent:true,animation:false,data:zDrugs.map((n,i)=>[n,zWaists[i]]),encode:{x:0,y:1},renderItem(p,api){
  const i=p.dataIndex,cx=api.coord([i,0])[0],wpx=api.size([1,0])[0],h=zHalves[i]*wpx;
  const Y=v=>api.coord([i,v])[1],top=zTops[i],bot=zBottoms[i],w=zWaists[i];
  const up=w+(top-w)*.4,dn=w-(w-bot)*.4,k=.5;
  return {type:'polygon',shape:{points:[[cx,Y(bot)],[cx-h*k,Y(dn)],[cx-h,Y(w)],[cx-h*k,Y(up)],[cx,Y(top)],[cx+h*k,Y(up)],[cx+h,Y(w)],[cx+h*k,Y(dn)]]},style:{fill:VIO}};
}});

/* ---------- PAGE FURNITURE ---------- */
const OS='"Open Sans"';
const T=(text,x,y,font,fill,align,z,extra)=>({type:'text',z:z||5,style:Object.assign({text,x,y,font,fill:fill||'#111',textAlign:align||'center',textVerticalAlign:'middle'},extra||{})});
const R=(x,y,w,h,fill,z)=>({type:'rect',z:z||-3,shape:{x,y,width:w,height:h},style:{fill}});
const secFont='15px '+FONT, subFont='10.5px '+FONT;
const GX=fx(372),GW=fx(1127)-GX;
const graphics=[
 R(128,68,1233,54.7,'#512e78'),
 T('PROTOCOL',150,98,'300 44px '+OS,'#fff','left'),
 T('NATURE PROTOCOLS',1346,99,'700 28.4px '+OS,'#fff','right'),
 R(128,144,1233,44,'#d2dff2'),
 T('Box 2 | Quick guide for data analysis and quality control (continued)',143,171,'700 19.6px '+OS,'#1a1a1a','left'),
 R(128,188,1233,1595,'#e9eef8'),
 R(352.5,199,783.5,1501,'#ffffff',-2),
 R(GX,212,GW,19.5,'#d7d7d7',-1),R(GX,437,GW,44,'#d7d7d7',-1),R(GX+2,716,GW,19.5,'#d7d7d7',-1),R(GX,974,GW,19.5,'#d7d7d7',-1),R(GX,1220,GW,19.5,'#d7d7d7',-1),R(GX,1462,GW,19.5,'#d7d7d7',-1),
 T('PMT raw data',fx(518.5),222,secFont),T('Fluorescence intensity for all plugs per sample and cycle',fx(890),222,secFont),
 T('Contamination of plug samples',fx(521.5),449,secFont),T('with barcode dye',fx(521.5),467,secFont),T('Signal drift of the medium control sample',fx(894),458,secFont),
 T('Signal drift of the cell density signal',fx(730),726,secFont),T('Length of plugs',fx(753.5),984,secFont),
 T('Length of plugs bias',fx(615),1230,secFont),T('Average standard deviation',fx(987.5),1230,secFont),
 T('Plug count deviation',fx(503),1472,secFont),
 T('{n|Drug screen heatmaps and }{i|Z}{n| scores}',fx(877),1472,secFont,'#111','center',5,{rich:{n:{font:secFont,fill:'#111'},i:{font:'italic '+secFont,fill:'#111'}}}),
 T('Irinotecan + sorafenib • cycle 1',fx(808.5),246.5,subFont,TXT),T('Irinotecan + sorafenib • cycle 2',fx(1020),246.5,subFont,TXT),
 T('Barcode',fx(513.5),1009.5,subFont,TXT),T('Sample',fx(767),1009.5,subFont,TXT),T('Both',fx(1023.5),1009.5,subFont,TXT),
 T('SP600125 + pos-ctrl',fx(513.5),1257,subFont,TXT),T('Trametinib + MK-2206',fx(756.5),1257,subFont,TXT),T('Readout',fx(1020),1257,subFont,TXT),
 T('{n|Readout }{i|Z}{n|–score}',fx(741),1492,subFont,TXT,'center',5,{rich:{n:{font:'10.5px '+FONT,fill:TXT},i:{font:'italic 10.5px '+FONT,fill:TXT}}}),
 T('Cycle',fx(1079),501,'10.5px '+FONT,TXT),
 T('Sample',fx(1071),787,'10.5px '+FONT,TXT,'left'),T('Cycle',fx(1071),873,'10.5px '+FONT,TXT,'left'),
 T('2934',127,1857,'700 18px '+OS,'#111','left'),
 T('{a|NATURE PROTOCOLS}{b| | VOL 17 | DECEMBER 2022 | 2920–2965 | }{c|www.nature.com/nprot}',1361,1857,'15px '+OS,'#333','right',5,{rich:{a:{font:'600 15px '+OS,fill:'#512e78'},b:{font:'15px '+OS,fill:'#333'},c:{font:'15px '+OS,fill:'#3a6ea5'}}})
];
const legendText={fontFamily:FONT,fontSize:10.5,color:TXT};
const legend=[
 {data:['Cycle 1','Cycle 2'],orient:'vertical',left:fx(1071),top:509,itemWidth:5,itemHeight:5,itemGap:3.5,icon:'circle',padding:0,selectedMode:false,formatter:n=>n.slice(-1),textStyle:legendText},
 {data:['0','15','30','45','60'],orient:'vertical',left:fx(1057),top:794.5,itemWidth:5,itemHeight:5,itemGap:3.5,icon:'circle',padding:0,selectedMode:false,textStyle:legendText},
 {data:[{name:'Shape 1',icon:'circle'},{name:'Shape 2',icon:'rect'}],orient:'vertical',left:fx(1057),top:883,itemWidth:5,itemHeight:5,itemGap:3,padding:0,selectedMode:false,formatter:n=>n.slice(-1),textStyle:legendText}];

const chart=echarts.init(document.getElementById('c'),null,{renderer:'canvas',width:1489,height:1978});
chart.setOption({animation:false,backgroundColor:'#fff',textStyle:{fontFamily:FONT},graphic:{elements:graphics},legend,grid,xAxis,yAxis,visualMap,series});
</script></body></html>
